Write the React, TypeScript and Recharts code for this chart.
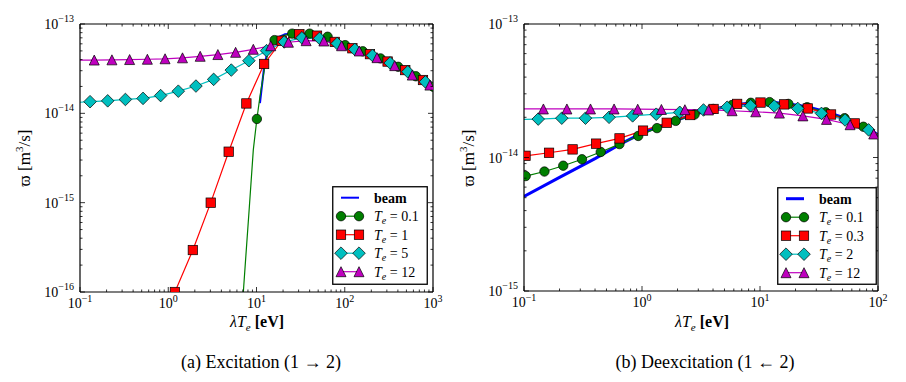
import React from 'react';
import { LineChart, Line, XAxis, YAxis, Legend } from 'recharts';

const FONT = '"Liberation Serif", "Times New Roman", serif';

// ---- (a) Excitation 1 -> 2 ----
const excBeamLine = [
  [10.95, 1.3e-14], [12.2, 3.3e-14], [13.5, 5.2e-14], [16, 6.8e-14], [21, 7.7e-14], [30, 7.9e-14],
  [40, 7.8e-14], [64, 7.1e-14], [101, 5.8e-14], [160, 4.95e-14], [254, 4.12e-14], [403, 3.32e-14],
  [640, 2.6e-14], [1000, 2.0e-14],
];
const excT01Marks = [
  [10.1, 8.65e-15], [16, 6.6e-14], [25.4, 7.8e-14], [40, 7.8e-14], [64, 7.2e-14], [101, 5.8e-14],
  [160, 4.95e-14], [254, 4.12e-14], [403, 3.32e-14], [640, 2.6e-14], [1015, 1.98e-14],
];
const excT01Line = [
  [6.8, 5.5e-17], [7.5, 2.2e-16], [8.3, 9e-16], [9.2, 3.9e-15], [11, 1.6e-14], [12.2, 3.0e-14],
  [13.5, 4.8e-14], [20, 7.4e-14],
];
const excT1Marks = [
  [1.19, 1.0e-16], [1.9, 2.95e-16], [3.03, 1.0e-15], [4.84, 3.72e-15], [7.68, 1.29e-14], [12.2, 3.57e-14],
  [19.3, 6.5e-14], [30.6, 7.7e-14], [48.5, 7.4e-14], [77, 6.3e-14], [122, 5.35e-14], [193, 4.6e-14],
  [306, 3.8e-14], [485, 3.05e-14], [770, 2.36e-14],
];
const excT1Line = [[0.95, 5.8e-17], [1000, 2.0e-14]];
const excT5Marks = [
  [0.13, 1.35e-14], [0.206, 1.38e-14], [0.327, 1.43e-14], [0.518, 1.47e-14], [0.82, 1.58e-14],
  [1.3, 1.77e-14], [2.06, 2.02e-14], [3.27, 2.4e-14], [5.18, 3.05e-14], [8.2, 3.88e-14], [13, 5.03e-14],
  [20.6, 6.3e-14], [32.7, 7.0e-14], [51.8, 6.9e-14], [82, 6.05e-14], [130, 5.2e-14], [206, 4.45e-14],
  [327, 3.66e-14], [518, 2.92e-14], [820, 2.25e-14],
];
const excT5Line = [[0.1, 1.33e-14], [1000, 2.0e-14]];
const excT12Marks = [
  [0.145, 3.95e-14], [0.23, 3.97e-14], [0.365, 4.0e-14], [0.58, 4.03e-14], [0.92, 4.08e-14],
  [1.45, 4.18e-14], [2.3, 4.35e-14], [3.65, 4.55e-14], [5.8, 4.82e-14], [9.2, 5.21e-14], [14.5, 5.71e-14],
  [23, 6.25e-14], [36.5, 6.5e-14], [58, 6.45e-14], [92, 5.71e-14], [146, 4.99e-14], [232, 4.2e-14],
  [368, 3.42e-14], [582, 2.68e-14], [922, 2.07e-14],
];
const excT12Line = [[0.1, 3.94e-14], [1000, 1.97e-14]];
const excLabels = ['0.1', '1', '5', '12'];

// ---- (b) Deexcitation 1 <- 2 ----
const deexBeamLine = [
  [0.1, 5.1e-15], [0.2, 7.1e-15], [0.4, 9.8e-15], [0.7, 1.3e-14], [1.0, 1.52e-14], [1.5, 1.75e-14],
  [2.5, 2.05e-14], [4, 2.3e-14], [6, 2.47e-14], [9, 2.58e-14], [12, 2.6e-14], [17, 2.53e-14],
  [25, 2.4e-14], [36, 2.2e-14], [52, 1.98e-14], [75, 1.72e-14], [100, 1.48e-14],
];
const deexT01Marks = [
  [0.1033, 7.26e-15], [0.149, 7.85e-15], [0.215, 8.68e-15], [0.31, 9.7e-15], [0.447, 1.1e-14],
  [0.644, 1.26e-14], [0.929, 1.45e-14], [1.34, 1.66e-14], [1.93, 1.88e-14], [2.79, 2.1e-14],
  [4.02, 2.31e-14], [5.79, 2.47e-14], [8.36, 2.57e-14], [12.05, 2.6e-14], [17.4, 2.52e-14],
  [25.1, 2.38e-14], [36.1, 2.18e-14], [52.1, 1.97e-14], [75.2, 1.7e-14],
];
const deexT01Line = [[0.1, 7.2e-15], [100, 1.49e-14]];
const deexT03Marks = [
  [0.103, 1.03e-14], [0.163, 1.085e-14], [0.258, 1.15e-14], [0.408, 1.27e-14], [0.645, 1.39e-14],
  [1.02, 1.59e-14], [1.62, 1.82e-14], [2.56, 2.08e-14], [4.04, 2.31e-14], [6.4, 2.52e-14],
  [10.1, 2.58e-14], [16, 2.5e-14], [25.4, 2.33e-14], [40, 2.1e-14], [63.5, 1.8e-14],
];
const deexT03Line = [[0.1, 1.02e-14], [100, 1.49e-14]];
const deexT2Marks = [
  [0.132, 1.94e-14], [0.209, 1.97e-14], [0.332, 1.97e-14], [0.526, 2.0e-14], [0.833, 2.05e-14],
  [1.32, 2.11e-14], [2.09, 2.18e-14], [3.32, 2.27e-14], [5.26, 2.38e-14], [8.33, 2.44e-14],
  [13.2, 2.43e-14], [20.9, 2.33e-14], [33.2, 2.14e-14], [52.6, 1.91e-14], [83.3, 1.61e-14],
];
const deexT2Line = [[0.1, 1.93e-14], [100, 1.47e-14]];
const deexT12Marks = [
  [0.146, 2.31e-14], [0.231, 2.31e-14], [0.366, 2.31e-14], [0.58, 2.31e-14], [0.92, 2.3e-14],
  [1.46, 2.29e-14], [2.31, 2.28e-14], [3.66, 2.27e-14], [5.8, 2.24e-14], [9.2, 2.2e-14],
  [14.6, 2.15e-14], [23.1, 2.05e-14], [36.6, 1.93e-14], [58, 1.76e-14], [92, 1.5e-14],
];
const deexT12Line = [[0.1, 2.31e-14], [100, 1.45e-14]];
const deexLabels = ['0.1', '0.3', '2', '12'];

const COLORS = { beam: '#0000ff', g: '#007f00', r: '#ff0000', c: '#00bfbf', m: '#bf00bf' };
const SERIES_STYLE = [
  { color: COLORS.g, shape: 'circle' },
  { color: COLORS.r, shape: 'square' },
  { color: COLORS.c, shape: 'diamond' },
  { color: COLORS.m, shape: 'triangle' },
];

const build = (marks: number[][], extra: number[][]) =>
  [...marks.map(([x, y]) => ({ x, y, m: 1 })), ...extra.map(([x, y]) => ({ x, y, m: 0 }))].sort((a, b) => a.x - b.x);

const logTicks = (from: number, to: number) => {
  const out: number[] = [];
  for (let e = from; e <= to; e++) {
    for (let j = 1; j <= 9; j++) {
      if (e === to && j > 1) break;
      out.push(j * Math.pow(10, e));
    }
  }
  return out;
};
const isMajor = (v: number) => Math.abs(Math.log10(v) - Math.round(Math.log10(v))) < 1e-6;
const expOf = (v: number) => {
  const e = Math.round(Math.log10(v));
  return e < 0 ? '\u2212' + Math.abs(e) : String(e);
};

const SVG_FONT = { fontFamily: FONT };

const Marker = ({ shape, cx, cy, fill }: any) => {
  const s = { fill, stroke: '#000', strokeWidth: 0.7 };
  if (shape === 'circle') return <circle cx={cx} cy={cy} r={4.7} {...s} />;
  if (shape === 'square') return <rect x={cx - 4.7} y={cy - 4.7} width={9.4} height={9.4} {...s} />;
  if (shape === 'diamond') {
    const d = 6.3;
    return <polygon points={`${cx},${cy - d} ${cx + d},${cy} ${cx},${cy + d} ${cx - d},${cy}`} {...s} />;
  }
  const t = 5;
  return <polygon points={`${cx},${cy - t} ${cx + t},${cy + t} ${cx - t},${cy + t}`} {...s} />;
};

const dotFor = (shape: string, fill: string) => (p: any) => {
  if (!p.payload || !p.payload.m || p.cx == null || p.cy == null) return <g key={p.index} />;
  return (
    <g key={p.index}>
      <Marker shape={shape} cx={p.cx} cy={p.cy} fill={fill} />
    </g>
  );
};

const MAJ = 5;
const MIN = 2.5;

const BottomTick = (p: any) => {
  const v = p.payload.value;
  const major = isMajor(v);
  return (
    <g>
      <line x1={p.x} x2={p.x} y1={p.y} y2={p.y - (major ? MAJ : MIN)} stroke="#000" strokeWidth={0.8} />
      {major && (
        <text x={p.x} y={p.y + 16} textAnchor="middle" fontSize={14} style={SVG_FONT} fill="#000">
          10<tspan dy={-6} fontSize={10}>{expOf(v)}</tspan>
        </text>
      )}
    </g>
  );
};
const TopTick = (p: any) => {
  const major = isMajor(p.payload.value);
  return <line x1={p.x} x2={p.x} y1={p.y} y2={p.y + (major ? MAJ : MIN)} stroke="#000" strokeWidth={0.8} />;
};
const LeftTick = (p: any) => {
  const v = p.payload.value;
  const major = isMajor(v);
  return (
    <g>
      <line x1={p.x} x2={p.x + (major ? MAJ : MIN)} y1={p.y} y2={p.y} stroke="#000" strokeWidth={0.8} />
      {major && (
        <text x={p.x - 6} y={p.y + 5} textAnchor="end" fontSize={14} style={SVG_FONT} fill="#000">
          10<tspan dy={-7} fontSize={10}>{expOf(v)}</tspan>
        </text>
      )}
    </g>
  );
};
const RightTick = (p: any) => {
  const major = isMajor(p.payload.value);
  return <line x1={p.x} x2={p.x - (major ? MAJ : MIN)} y1={p.y} y2={p.y} stroke="#000" strokeWidth={0.8} />;
};

const LegendBox = ({ labels, w, h, beamWidth }: any) => {
  const rowY = [11.7, 30.2, 48.7, 67.2, 85.7];
  return (
    <svg width={w} height={h} style={{ display: 'block' }}>
      <rect x={0.75} y={0.75} width={w - 1.5} height={h - 1.5} fill="#fff" stroke="#000" strokeWidth={1.3} />
      <line x1={9} x2={27} y1={rowY[0]} y2={rowY[0]} stroke={COLORS.beam} strokeWidth={beamWidth} />
      <text x={42} y={rowY[0] + 5} fontSize={14} fontWeight="bold" style={SVG_FONT}>beam</text>
      {SERIES_STYLE.map((st, i) => (
        <g key={i}>
          <line x1={9} x2={27} y1={rowY[i + 1]} y2={rowY[i + 1]} stroke={st.color} strokeWidth={1.2} />
          <Marker shape={st.shape} cx={9} cy={rowY[i + 1]} fill={st.color} />
          <Marker shape={st.shape} cx={27} cy={rowY[i + 1]} fill={st.color} />
          <text x={42} y={rowY[i + 1] + 5} fontSize={14} style={SVG_FONT}>
            <tspan fontStyle="italic">T</tspan>
            <tspan fontStyle="italic" fontSize={10} dy={3}>e</tspan>
            <tspan dy={-3}>{' = ' + labels[i]}</tspan>
          </text>
        </g>
      ))}
    </svg>
  );
};

const AX = { stroke: '#000', strokeWidth: 1.2 };

const Panel = ({ left, margin, xDom, yDom, xTicks, yTicks, beam, series, labels, legendPos, beamWidth }: any) => (
  <div style={{ position: 'absolute', left, top: 0 }}>
    <LineChart width={450} height={335} margin={margin}>
      <XAxis xAxisId="b" dataKey="x" type="number" scale="log" domain={xDom} allowDataOverflow ticks={xTicks}
        interval={0} height={1} tickSize={0} tickMargin={0} tickLine={false} tick={BottomTick} axisLine={AX} />
      <XAxis xAxisId="t" orientation="top" dataKey="x" type="number" scale="log" domain={xDom} allowDataOverflow
        ticks={xTicks} interval={0} height={1} tickSize={0} tickMargin={0} tickLine={false} tick={TopTick} axisLine={AX} />
      <YAxis yAxisId="l" dataKey="y" type="number" scale="log" domain={yDom} allowDataOverflow ticks={yTicks}
        interval={0} width={1} tickSize={0} tickMargin={0} tickLine={false} tick={LeftTick} axisLine={AX} />
      <YAxis yAxisId="r" orientation="right" dataKey="y" type="number" scale="log" domain={yDom} allowDataOverflow
        ticks={yTicks} interval={0} width={1} tickSize={0} tickMargin={0} tickLine={false} tick={RightTick} axisLine={AX} />
      <Line xAxisId="b" yAxisId="l" data={beam} dataKey="y" type="linear" stroke={COLORS.beam}
        strokeWidth={beamWidth} dot={false} activeDot={false} isAnimationActive={false} />
      {series.map((d: any, i: number) => (
        <Line key={i} xAxisId="b" yAxisId="l" data={d} dataKey="y" type="linear" stroke={SERIES_STYLE[i].color}
          strokeWidth={1.2} dot={dotFor(SERIES_STYLE[i].shape, SERIES_STYLE[i].color)} activeDot={false}
          isAnimationActive={false} />
      ))}
      <Legend layout="horizontal" verticalAlign="middle" align="center"
        wrapperStyle={{ position: 'absolute', left: legendPos.x, top: legendPos.y, width: legendPos.w, height: legendPos.h }}
        content={() => <LegendBox labels={labels} w={legendPos.w} h={legendPos.h} beamWidth={beamWidth} />} />
    </LineChart>
  </div>
);

const textStyle: React.CSSProperties = { position: 'absolute', fontFamily: FONT, color: '#000', whiteSpace: 'nowrap' };

const YLabel = ({ x, y }: any) => (
  <div style={{ ...textStyle, left: x, top: y, fontSize: 17, transform: 'translate(-50%, -50%) rotate(-90deg)' }}>
    {'\u03D6 [m'}<sup style={{ fontSize: 11 }}>3</sup>{'/s]'}
  </div>
);
const XLabel = ({ x, y }: any) => (
  <div style={{ ...textStyle, left: x, top: y, fontSize: 16, transform: 'translate(-50%, -50%)' }}>
    <i>{'\u03BBT'}</i><sub style={{ fontSize: 11, fontStyle: 'italic' }}>e</sub> <b>[eV]</b>
  </div>
);
const Caption = ({ x, y, children }: any) => (
  <div style={{ ...textStyle, left: x, top: y, fontSize: 18, transform: 'translate(-50%, -50%)' }}>{children}</div>
);

export default function App() {
  const excSeries = [
    build(excT01Marks, excT01Line),
    build(excT1Marks, excT1Line),
    build(excT5Marks, excT5Line),
    build(excT12Marks, excT12Line),
  ];
  const deexSeries = [
    build(deexT01Marks, deexT01Line),
    build(deexT03Marks, deexT03Line),
    build(deexT2Marks, deexT2Line),
    build(deexT12Marks, deexT12Line),
  ];
  return (
    <div style={{ position: 'absolute', left: 0, top: 0, width: 906, height: 382, background: '#fff', overflow: 'hidden' }}>
      <Panel left={0} margin={{ top: 23, left: 79, right: 16, bottom: 42 }} xDom={[0.1, 1000]} yDom={[1e-16, 1e-13]}
        xTicks={logTicks(-1, 3)} yTicks={logTicks(-16, -13)} beam={build([], excBeamLine)} series={excSeries}
        labels={excLabels} beamWidth={2} legendPos={{ x: 332, y: 186, w: 96, h: 99 }} />
      <Panel left={450} margin={{ top: 23, left: 73, right: 21, bottom: 43 }} xDom={[0.1, 100]} yDom={[1e-15, 1e-13]}
        xTicks={logTicks(-1, 2)} yTicks={logTicks(-15, -13)} beam={build([], deexBeamLine)} series={deexSeries}
        labels={deexLabels} beamWidth={3} legendPos={{ x: 327, y: 187, w: 100, h: 98 }} />
      <YLabel x={24} y={158} />
      <YLabel x={468} y={158} />
      <XLabel x={257} y={323} />
      <XLabel x={702} y={323} />
      <Caption x={261} y={362}>(a) Excitation (1 {'\u2192'} 2)</Caption>
      <Caption x={705} y={362}>(b) Deexcitation (1 {'\u2190'} 2)</Caption>
    </div>
  );
}
